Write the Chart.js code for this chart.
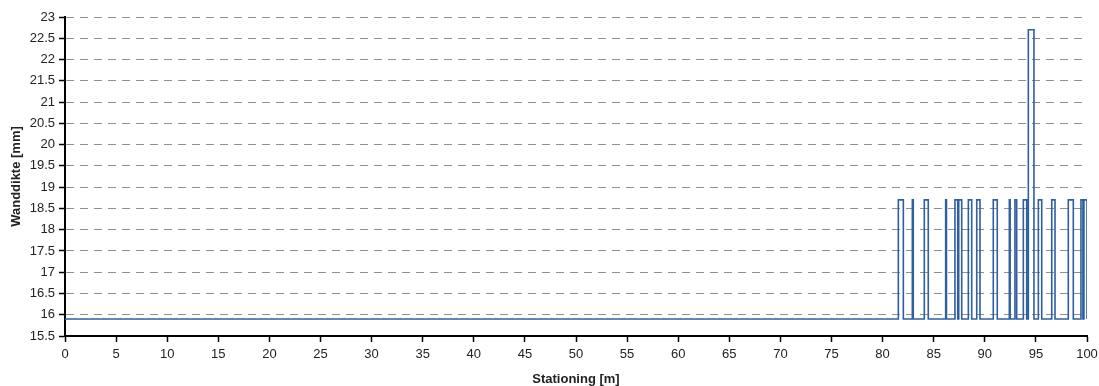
<!DOCTYPE html>
<html>
<head>
<meta charset="utf-8">
<script src="https://cdn.jsdelivr.net/npm/chart.js@4.4.0/dist/chart.umd.min.js"></script>
<style>
  html, body { margin: 0; padding: 0; background: #fff; }
  #wrap { width: 1099px; height: 386px; }
</style>
</head>
<body>
<div id="wrap"><canvas id="grafiek" width="1099" height="386"></canvas></div>
<script>
// meetpunten: positie waar de wanddikte verandert (trapfunctie)
const stationing = [0, 81.54, 82.03, 82.91, 83.0, 84.08, 84.47, 86.17, 86.25,
    87.08, 87.35, 87.45, 87.74, 88.39, 88.72, 89.21, 89.53, 90.83, 91.22,
    92.40, 92.48, 92.95, 93.12, 93.77, 94.10, 94.26, 94.81, 95.24, 95.57,
    96.55, 96.87, 98.17, 98.66, 99.41, 99.6, 99.7, 100];
const wanddikte = [15.9, 18.7, 15.9, 18.7, 15.9, 18.7, 15.9, 18.7, 15.9,
    18.7, 15.9, 18.7, 15.9, 18.7, 15.9, 18.7, 15.9, 18.7, 15.9,
    18.7, 15.9, 18.7, 15.9, 18.7, 15.9, 22.7, 15.9, 18.7, 15.9,
    18.7, 15.9, 18.7, 15.9, 18.7, 15.9, 18.7, 15.9];

const xMin = 0, xMax = 100, xStap = 5;
const yMin = 15.5, yMax = 23, yStap = 0.5;

const punten = stationing.map((s, i) => ({ x: s, y: wanddikte[i] }));

const letter = { family: "'Liberation Sans', Arial, sans-serif", size: 13 };

new Chart(document.getElementById('grafiek'), {
    type: 'line',
    data: {
        datasets: [{
            data: punten,
            stepped: true,
            borderColor: '#2f5f9f',
            borderWidth: 1.6,
            pointRadius: 0,
            fill: false
        }]
    },
    options: {
        responsive: false,
        animation: false,
        layout: { padding: { top: 17, right: 12, left: 0, bottom: 0 } },
        plugins: { legend: { display: false }, tooltip: { enabled: false } },
        scales: {
            x: {
                type: 'linear',
                min: xMin, max: xMax,
                ticks: { stepSize: xStap, color: '#222', font: letter, padding: 5, maxRotation: 0,
                    callback: v => String(v) },
                grid: { drawOnChartArea: false, tickLength: 6, tickColor: '#000', tickWidth: 1.5 },
                border: { color: '#000', width: 2 },
                title: { display: true, text: 'Stationing [m]', color: '#222',
                    font: { ...letter, weight: 'bold' }, padding: { top: 0, bottom: -1 } },
                afterFit: s => { s.height = 50; s.paddingLeft = 0; s.paddingRight = 0; }
            },
            y: {
                min: yMin, max: yMax,
                ticks: { stepSize: yStap, color: '#222', font: letter, padding: 4,
                    callback: v => String(v) },
                grid: { color: '#8f8f8f', lineWidth: 1, tickLength: 6, tickColor: '#000', tickWidth: 1.5 },
                border: { color: '#000', width: 2, dash: [8, 6] },
                title: { display: true, text: 'Wanddikte [mm]', color: '#222',
                    font: { ...letter, weight: 'bold' }, padding: { top: 9, bottom: 0 } },
                afterFit: s => { s.width = 65; s.paddingTop = 0; s.paddingBottom = 0; }
            }
        }
    }
});
</script>
</body>
</html>
